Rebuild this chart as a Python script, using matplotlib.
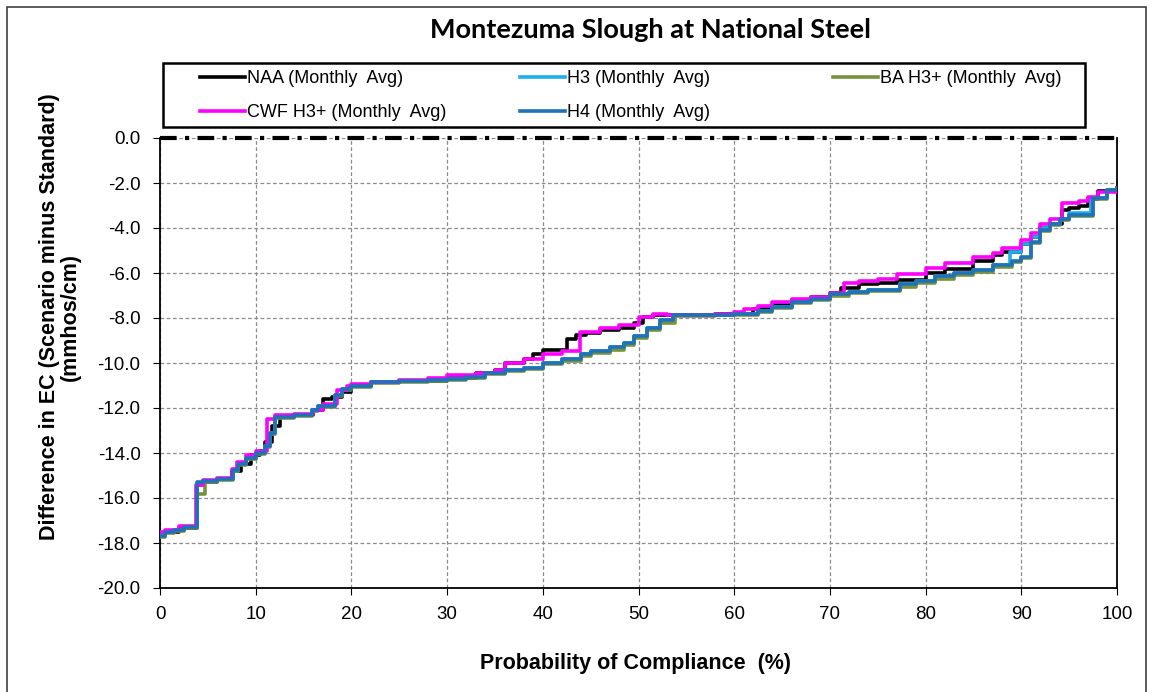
import numpy as np
import matplotlib.pyplot as plt
from matplotlib.patches import Rectangle

plt.rcParams['font.family'] = ['Liberation Sans', 'DejaVu Sans']
plt.rcParams['axes.unicode_minus'] = False

# Probability of compliance (%) breakpoints and EC difference, step curves
naa_x = [0, 0.5, 2, 3.9, 4.5, 6, 7.5, 8.5, 9.5, 10.5, 11, 11.7, 12.5, 14, 16, 17, 18, 19, 20, 22,
         25, 30, 33, 35, 36, 38, 39, 40, 42.5, 43.5, 44.5, 46, 48, 49.5, 50.5, 51.5, 53, 58, 60,
         62, 64, 66, 68, 70, 71.2, 73, 75, 77, 80, 82, 85, 87, 88, 90, 91, 92, 93, 94.3, 95, 96,
         97, 98, 100]
naa_y = [-17.6, -17.5, -17.35, -15.4, -15.3, -15.15, -14.8, -14.5, -14.1, -13.9, -13.5, -12.8,
         -12.4, -12.3, -12.1, -11.6, -11.5, -11.3, -11.0, -10.85, -10.8, -10.65, -10.45, -10.3,
         -10.0, -9.8, -9.6, -9.4, -8.95, -8.75, -8.65, -8.55, -8.45, -8.2, -7.95, -7.85, -7.85,
         -7.82, -7.8, -7.6, -7.4, -7.2, -7.05, -6.9, -6.65, -6.5, -6.45, -6.3, -6.0, -5.8, -5.45,
         -5.2, -5.05, -4.7, -4.4, -4.0, -3.8, -3.2, -3.1, -3.0, -2.7, -2.35, -2.22]

cwf_x = [0, 0.5, 2, 3.8, 4.5, 6, 7.5, 8, 9, 10, 11.2, 12, 14, 16, 17, 18.5, 19.5, 20, 22, 25, 28,
         30, 33, 35, 36, 38, 40, 42, 43.9, 46, 48, 50, 51.5, 53, 58, 60, 61, 62.5, 64, 66, 68, 70,
         71.5, 73, 75, 77, 80, 82, 85, 87, 88, 90, 91, 92, 93, 94.3, 96, 97, 98, 100]
cwf_y = [-17.5, -17.4, -17.25, -15.4, -15.2, -15.1, -14.7, -14.4, -14.1, -13.9, -12.5, -12.3,
         -12.25, -12.1, -11.8, -11.2, -11.0, -10.95, -10.85, -10.75, -10.65, -10.55, -10.45,
         -10.3, -10.0, -9.8, -9.6, -9.45, -8.6, -8.45, -8.3, -7.95, -7.83, -7.85, -7.82, -7.75,
         -7.6, -7.45, -7.3, -7.15, -7.05, -6.9, -6.45, -6.35, -6.25, -6.05, -5.78, -5.55, -5.3,
         -5.1, -4.9, -4.55, -4.2, -3.8, -3.6, -2.9, -2.8, -2.6, -2.4, -2.22]

h4_x = [0, 0.5, 1.5, 2.5, 3.9, 4.5, 6, 7.6, 8.2, 9, 10, 11, 11.5, 12, 14, 15.9, 16.5, 18.3, 19,
        20, 22, 25, 28, 30, 32, 34, 36, 38, 40, 42, 44, 45, 47, 48.5, 49.5, 50.9, 52.2, 53.6, 58,
        60, 61, 62.5, 64, 66, 68, 70, 72, 74, 77.3, 79, 81, 83, 85, 87, 89, 90, 91, 92, 93, 94,
        95, 97.5, 99, 100]
h4_y = [-17.7, -17.5, -17.4, -17.3, -15.3, -15.25, -15.15, -14.75, -14.5, -14.2, -14.0, -13.7,
        -13.1, -12.4, -12.3, -12.1, -11.9, -11.4, -11.15, -11.0, -10.85, -10.8, -10.75, -10.7,
        -10.6, -10.45, -10.3, -10.2, -10.0, -9.8, -9.6, -9.45, -9.3, -9.1, -8.8, -8.45, -8.1,
        -7.87, -7.85, -7.83, -7.8, -7.7, -7.5, -7.3, -7.15, -6.95, -6.85, -6.75, -6.5, -6.35,
        -6.15, -6.0, -5.85, -5.65, -5.45, -5.3, -4.6, -4.1, -3.8, -3.6, -3.4, -2.65, -2.3, -2.22]

h3_x = [0, 0.5, 1.5, 2.5, 3.9, 4.5, 6, 7.6, 8.2, 9, 10, 11, 11.5, 12, 14, 15.9, 16.5, 18.3, 19,
        20, 22, 25, 28, 30, 32, 34, 36, 38, 40, 42, 44, 45, 47, 48.5, 49.5, 50.9, 52.2, 53.6, 58,
        60, 61, 62.5, 64, 66, 68, 70, 72, 74, 77.3, 79, 81, 83, 85, 87, 88.8, 90, 91, 92, 93, 94,
        95, 97.3, 99, 100]
h3_y = [-17.65, -17.5, -17.4, -17.3, -15.4, -15.25, -15.15, -14.8, -14.5, -14.2, -14.0, -13.7,
        -13.1, -12.4, -12.3, -12.1, -11.9, -11.4, -11.15, -11.0, -10.85, -10.8, -10.75, -10.7,
        -10.6, -10.45, -10.3, -10.2, -10.0, -9.8, -9.6, -9.45, -9.3, -9.1, -8.8, -8.45, -8.1,
        -7.87, -7.85, -7.83, -7.8, -7.7, -7.5, -7.3, -7.15, -6.95, -6.85, -6.75, -6.5, -6.35,
        -6.15, -6.0, -5.85, -5.65, -5.05, -4.7, -4.4, -4.0, -3.8, -3.6, -3.35, -2.65, -2.3, -2.22]

ba_x = [0, 0.5, 1.5, 2.5, 3.9, 4.7, 6, 7.6, 8.2, 9, 10, 11, 11.5, 12, 14, 15.9, 16.5, 18.3, 19,
        20, 22, 25, 28, 30, 32, 34, 36, 38, 40, 42, 44, 45, 47, 48.5, 49.5, 50.9, 52.2, 53.8, 58,
        60, 61, 62.5, 64, 66, 68, 70, 72, 74, 77.3, 79, 81, 83, 85, 87, 89, 90, 91, 92, 93, 94,
        95, 97.5, 99, 100]
ba_y = [-17.75, -17.55, -17.45, -17.35, -15.8, -15.3, -15.2, -14.8, -14.55, -14.25, -14.05,
        -13.75, -13.15, -12.45, -12.35, -12.15, -11.95, -11.45, -11.2, -11.05, -10.9, -10.85,
        -10.8, -10.75, -10.65, -10.5, -10.35, -10.25, -10.05, -9.9, -9.7, -9.55, -9.4, -9.2,
        -8.9, -8.55, -8.2, -7.9, -7.85, -7.85, -7.85, -7.75, -7.55, -7.35, -7.2, -7.0, -6.9,
        -6.8, -6.6, -6.45, -6.25, -6.1, -5.95, -5.75, -5.5, -5.35, -4.65, -4.15, -3.85, -3.65,
        -3.45, -2.7, -2.3, -2.22]

series = [
    ('NAA (Monthly  Avg)', naa_x, naa_y, '#000000'),
    ('H3 (Monthly  Avg)', h3_x, h3_y, '#1EAEE8'),
    ('BA H3+ (Monthly  Avg)', ba_x, ba_y, '#76923C'),
    ('CWF H3+ (Monthly  Avg)', cwf_x, cwf_y, '#FF00FF'),
    ('H4 (Monthly  Avg)', h4_x, h4_y, '#1F72B8'),
]

fig = plt.figure(figsize=(11.52, 6.92), dpi=100)
ax = fig.add_axes([160 / 1152, 1 - 588 / 692, 957 / 1152, 450 / 692])

handles = {}
for name, xs, ys, col in series:
    ln, = ax.plot(xs, ys, drawstyle='steps-post', color=col, lw=2.6, label=name, zorder=3)
    handles[name] = ln

ax.axhline(0, color='black', lw=3, dashes=[4, 2, 1, 2], zorder=4, clip_on=False)

ax.set_xlim(0, 100)
ax.set_ylim(-20, 0)
ax.set_xticks(np.arange(0, 101, 10))
ax.set_yticks(np.arange(-20, 0.1, 2))
ax.set_yticklabels(['%.1f' % v for v in np.arange(-20, 0.1, 2)])
ax.tick_params(labelsize=13.5, length=5, direction='out')
ax.tick_params(axis='y', pad=9)
ax.tick_params(axis='x', pad=8)
ax.grid(True, color='#8c8c8c', lw=0.9, dashes=(3, 2))
for s in ['left', 'right', 'bottom']:
    ax.spines[s].set_linewidth(1.3)
ax.spines['top'].set_visible(False)

fig.text(650 / 1152, 1 - 30 / 692, 'Montezuma Slough at National Steel', ha='center', va='center',
         fontsize=19.5, fontweight='bold', family=['Lato', 'DejaVu Sans'])
fig.text(636 / 1152, 1 - 664 / 692, 'Probability of Compliance  (%)', ha='center', va='center',
         fontsize=15.5, fontweight='bold')
fig.text(60 / 1152, 1 - 317 / 692, 'Difference in EC (Scenario minus Standard)\n(mmhos/cm)',
         ha='center', va='center', rotation=90, fontsize=15.5, fontweight='bold',
         multialignment='center', linespacing=1.0)

# legend: three columns laid out row by row, like the original
columns = [['NAA (Monthly  Avg)', 'CWF H3+ (Monthly  Avg)'],
           ['H3 (Monthly  Avg)', 'H4 (Monthly  Avg)'],
           ['BA H3+ (Monthly  Avg)']]
col_left = [200, 520, 833]
for names, xl in zip(columns, col_left):
    fig.legend([handles[n] for n in names], names, loc='upper left',
               bbox_to_anchor=(xl / 1152, 1 - 70 / 692), frameon=False,
               fontsize=13, handlelength=2.5, handletextpad=0.1, borderpad=0,
               borderaxespad=0, labelspacing=0.95)

fig.patches.append(Rectangle((163 / 1152, 1 - 127 / 692), 922 / 1152, 64 / 692,
                             transform=fig.transFigure, fill=False, edgecolor='black', lw=1.8))
fig.patches.append(Rectangle((7 / 1152, -0.01), 1139 / 1152, 1 - 7 / 692 + 0.01,
                             transform=fig.transFigure, fill=False, edgecolor='#404040', lw=1.2))

fig.savefig('out.png', dpi=100)
